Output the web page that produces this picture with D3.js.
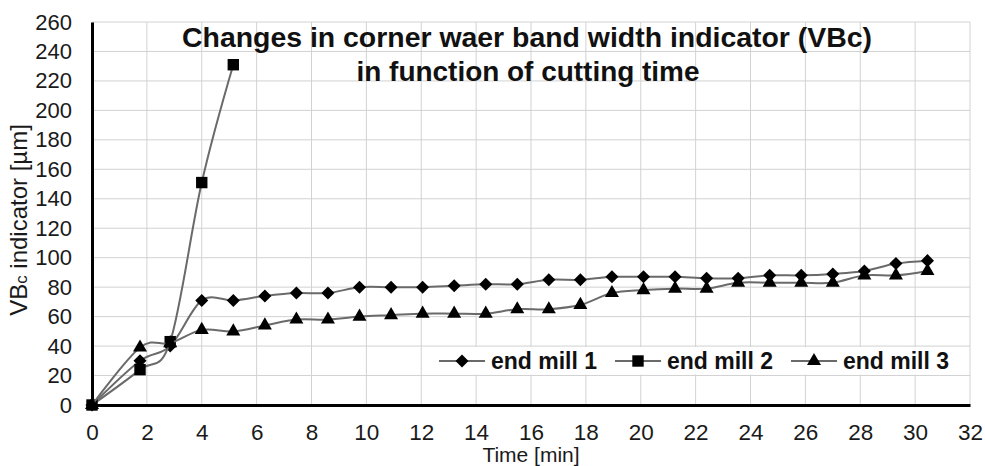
<!DOCTYPE html>
<html>
<head>
<meta charset="utf-8">
<script src="https://cdn.jsdelivr.net/npm/d3@7"></script>
<style>
    body { margin: 0; background: #fff; }
    text { font-family: "Liberation Sans", Arial, sans-serif; }
</style>
</head>
<body>
<svg width="985" height="466"></svg>
<script>
// cutting time [min] for each measurement
var times = [0, 1.75, 2.85, 4, 5.15, 6.3, 7.45, 8.6, 9.75, 10.9, 12.05, 13.2, 14.35, 15.5,
    16.65, 17.8, 18.95, 20.1, 21.25, 22.4, 23.55, 24.7, 25.85, 27, 28.15, 29.3, 30.45];
var mill1 = [0, 30, 40, 71, 71, 74, 76, 76, 80, 80, 80, 81, 82, 82,
    85, 85, 87, 87, 87, 86, 86, 88, 88, 89, 91, 96, 98];
var mill2 = [0, 24, 43, 151, 231];
var mill3 = [0, 39, 42, 51, 50, 54, 58, 58, 60, 61, 62, 62, 62, 65,
    65, 68, 76, 78, 79, 79, 83, 83, 83, 83, 88, 88, 91];
var seriesNames = ["end mill 1", "end mill 2", "end mill 3"];
var xTicks = [0, 2, 4, 6, 8, 10, 12, 14, 16, 18, 20, 22, 24, 26, 28, 30, 32];
var yTicks = [0, 20, 40, 60, 80, 100, 120, 140, 160, 180, 200, 220, 240, 260];

var svg = d3.select("svg");

var x = d3.scaleLinear().domain([0, 32]).range([92, 970]);
var y = d3.scaleLinear().domain([0, 260]).range([405, 22]);

// diamond = square turned by 45 degrees
var series = [
    {name: seriesNames[0], values: mill1, symbol: d3.symbolSquare, size: 85, rot: 45},
    {name: seriesNames[1], values: mill2, symbol: d3.symbolSquare, size: 130, rot: 0},
    {name: seriesNames[2], values: mill3, symbol: d3.symbolTriangle, size: 85, rot: 0}
];

// grid
svg.append("g")
    .selectAll("line")
    .data(xTicks)
    .enter().append("line")
    .attr("x1", function (d) { return x(d); })
    .attr("x2", function (d) { return x(d); })
    .attr("y1", y(260))
    .attr("y2", y(0))
    .attr("stroke", "#d2d2d2")
    .attr("stroke-width", 1);

svg.append("g")
    .selectAll("line")
    .data(yTicks)
    .enter().append("line")
    .attr("x1", x(0))
    .attr("x2", x(32))
    .attr("y1", function (d) { return y(d); })
    .attr("y2", function (d) { return y(d); })
    .attr("stroke", "#d2d2d2")
    .attr("stroke-width", 1);

// axes
var xAxis = svg.append("g")
    .attr("transform", "translate(0," + y(0) + ")")
    .call(d3.axisBottom(x).tickValues(xTicks).tickSize(0).tickPadding(19));
xAxis.select(".domain").attr("stroke", "#000").attr("stroke-width", 3);
xAxis.selectAll("text").attr("font-size", 22.5).attr("fill", "#1a1a1a")
    .attr("font-family", "Liberation Sans, Arial, sans-serif");

var yAxis = svg.append("g")
    .attr("transform", "translate(" + x(0) + ",0)")
    .call(d3.axisLeft(y).tickValues(yTicks).tickSize(0).tickPadding(20));
yAxis.select(".domain").attr("stroke", "#000").attr("stroke-width", 3);
yAxis.selectAll("text").attr("font-size", 22).attr("fill", "#1a1a1a")
    .attr("font-family", "Liberation Sans, Arial, sans-serif");

// title
var title = svg.append("g").attr("font-weight", "bold").attr("fill", "#111")
    .attr("text-anchor", "middle").attr("font-size", 27);
title.append("text").attr("x", 527).attr("y", 47)
    .attr("textLength", 690).attr("lengthAdjust", "spacingAndGlyphs")
    .text("Changes in corner waer band width indicator (VBc)");
title.append("text").attr("x", 528).attr("y", 81)
    .attr("textLength", 343).attr("lengthAdjust", "spacingAndGlyphs")
    .text("in function of cutting time");

// axis titles
svg.append("text")
    .attr("x", 531).attr("y", 462)
    .attr("text-anchor", "middle")
    .attr("font-size", 21)
    .attr("fill", "#1a1a1a")
    .text("Time [min]");

var yTitle = svg.append("text")
    .attr("transform", "translate(27,220) rotate(-90)")
    .attr("text-anchor", "middle")
    .attr("font-size", 24)
    .attr("fill", "#1a1a1a");
yTitle.append("tspan").text("VB");
yTitle.append("tspan").attr("font-size", 17).text("c");
yTitle.append("tspan").text(" indicator [µm]");

// series
var line = d3.line()
    .x(function (d, i) { return x(times[i]); })
    .y(function (d) { return y(d); })
    .curve(d3.curveCardinal.tension(0));

series.forEach(function (s) {
    var g = svg.append("g");
    g.append("path")
        .attr("d", line(s.values))
        .attr("fill", "none")
        .attr("stroke", "#6a6a6a")
        .attr("stroke-width", 2);
    g.selectAll("path.mark")
        .data(s.values)
        .enter().append("path")
        .attr("class", "mark")
        .attr("d", d3.symbol().type(s.symbol).size(s.size))
        .attr("transform", function (d, i) {
            return "translate(" + x(times[i]) + "," + y(d) + ") rotate(" + s.rot + ")";
        })
        .attr("fill", "#000");
});

// legend
var legend = svg.append("g");
legend.append("rect")
    .attr("x", 436).attr("y", y(40) + 1)
    .attr("width", 520).attr("height", y(20) - y(40) - 2)
    .attr("fill", "#fff");

var legendX = [439, 615, 791];
var legendText = [491, 667, 843];
series.forEach(function (s, i) {
    var ly = 361;
    legend.append("line")
        .attr("x1", legendX[i]).attr("x2", legendX[i] + 46)
        .attr("y1", ly).attr("y2", ly)
        .attr("stroke", "#6a6a6a").attr("stroke-width", 2);
    legend.append("path")
        .attr("d", d3.symbol().type(s.symbol).size(s.size))
        .attr("transform", "translate(" + (legendX[i] + 23) + "," + ly + ") rotate(" + s.rot + ")")
        .attr("fill", "#000");
    legend.append("text")
        .attr("x", legendText[i]).attr("y", 369)
        .attr("font-size", 23)
        .attr("font-weight", "bold")
        .attr("fill", "#111")
        .text(s.name);
});
</script>
</body>
</html>
